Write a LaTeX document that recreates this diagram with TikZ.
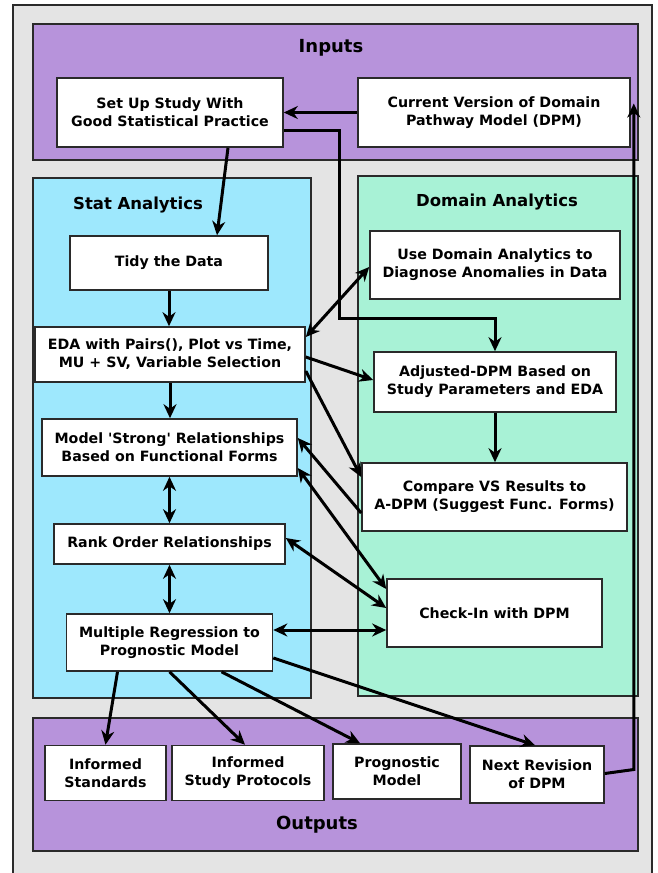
\documentclass[tikz,border=0pt]{standalone}
\usepackage{fontspec}
\setmainfont{DejaVu Sans}[Ligatures=TeXOff]
\usetikzlibrary{arrows.meta}
\definecolor{bggray}{HTML}{E4E4E4}
\definecolor{purp}{HTML}{B793DB}
\definecolor{skyb}{HTML}{9EE8FD}
\definecolor{mint}{HTML}{A8F2D6}
\definecolor{edge}{HTML}{2A2A2A}
\tikzset{
  region/.style={draw=edge, line width=1.8pt},
  box/.style={draw=edge, line width=1.6pt, fill=white, align=center, inner sep=0pt,
    font=\fontsize{14.2}{18}\selectfont\bfseries},
  title/.style={font=\fontsize{16.5}{20}\selectfont\bfseries},
  bigtitle/.style={font=\fontsize{18}{22}\selectfont\bfseries},
  tip/.style={Stealth[length=14pt,width=13pt,inset=4.5pt]},
  arr/.style={line width=3pt, -{Stealth[length=14pt,width=13pt,inset=4.5pt]}},
  darr/.style={line width=3pt, {Stealth[length=14pt,width=13pt,inset=4.5pt]}-{Stealth[length=14pt,width=13pt,inset=4.5pt]}}
}
\begin{document}
\begin{tikzpicture}[x=1pt,y=-1pt]
\useasboundingbox (0,0) rectangle (657,873);
% frames
\draw[region, fill=bggray, line width=1.5pt] (13,5) rectangle (652,890);
\draw[region, fill=purp] (33,24) rectangle (638,160);
\draw[region, fill=skyb] (33,178) rectangle (311,698);
\draw[region, fill=mint] (358,176) rectangle (638,696);
\draw[region, fill=purp] (33,718) rectangle (638,851);
% titles
\node[bigtitle] (tin) at (331,48) {Inputs};
\node[title] (tstat) at (138,205) {Stat Analytics};
\node[title] (tdom) at (497,202) {Domain Analytics};
\node[bigtitle] (tout) at (317,825) {Outputs};
% boxes
\node[box, minimum width=226pt, minimum height=69pt] (setup) at (170,112.5) {Set Up Study With\\Good Statistical Practice};
\node[box, minimum width=272pt, minimum height=69pt] (cur) at (494,112.5) {Current Version of Domain\\Pathway Model (DPM)};
\node[box, minimum width=198pt, minimum height=54pt] (tidy) at (169,263) {Tidy the Data};
\node[box, minimum width=270pt, minimum height=55pt] (eda) at (170,354.5) {EDA with Pairs(), Plot vs Time,\\MU + SV, Variable Selection};
\node[box, minimum width=255pt, minimum height=57pt] (model) at (169.5,447.5) {Model 'Strong' Relationships\\Based on Functional Forms};
\node[box, minimum width=231pt, minimum height=40pt] (rank) at (169.5,544) {Rank Order Relationships};
\node[box, minimum width=206pt, minimum height=57pt] (mult) at (169.5,642.5) {Multiple Regression to\\Prognostic Model};
\node[box, minimum width=250pt, minimum height=68pt] (use) at (495,265) {Use Domain Analytics to\\Diagnose Anomalies in Data};
\node[box, minimum width=242pt, minimum height=60pt] (adj) at (495,382) {Adjusted-DPM Based on\\Study Parameters and EDA};
\node[box, minimum width=265pt, minimum height=68pt] (comp) at (494.5,497) {Compare VS Results to\\A-DPM (Suggest Func. Forms)};
\node[box, minimum width=215pt, minimum height=68pt] (check) at (494.5,613) {Check-In with DPM};
\node[box, minimum width=121pt, minimum height=55pt] (std) at (105.5,773) {Informed\\Standards};
\node[box, minimum width=152pt, minimum height=55pt] (proto) at (248,773) {Informed\\Study Protocols};
\node[box, minimum width=128pt, minimum height=55pt] (prog) at (397,771.5) {Prognostic\\Model};
\node[box, minimum width=134pt, minimum height=57pt] (next) at (537,774.5) {Next Revision\\of DPM};
% connectors
\draw[arr] (cur.west) -- (setup.east);
\draw[arr] ([xshift=58pt]setup.south) -- ([xshift=48pt]tidy.north);
\draw[arr] ([yshift=-17.5pt]setup.east) -| ([xshift=-156pt,yshift=33pt]adj.north) -| (adj.north);
\draw[arr] (tidy.south) -- (tidy.south |- eda.north);
\draw[arr] (eda.south) -- (eda.south |- model.north);
\draw[darr] (model.south) -- (model.south |- rank.north);
\draw[darr] (rank.south) -- (rank.south |- mult.north);
\draw[arr] (adj.south) -- (adj.south |- comp.north);
\draw[darr] ([yshift=17.5pt]eda.east) -- ([yshift=-2pt]use.west);
\draw[arr] ([yshift=-2.5pt]eda.east) -- ([yshift=2pt]adj.west);
\draw[arr] ([yshift=-16.5pt]eda.east) -- ([yshift=20pt]comp.west);
\draw[arr] ([yshift=-16pt]comp.west) -- ([yshift=9.5pt]model.east);
\draw[darr] ([yshift=-20.5pt]model.east) -- ([yshift=24pt]check.west);
\draw[darr] ([yshift=6pt]rank.east) -- ([yshift=5pt]check.west);
\draw[darr] ([yshift=12.5pt]mult.east) -- ([yshift=-17pt]check.west);
\draw[arr] ([xshift=-52pt]mult.south) -- (std.north);
\draw[arr] (mult.south) -- ([xshift=-3pt]proto.north);
\draw[arr] ([xshift=52pt]mult.south) -- ([xshift=-37pt]prog.north);
\draw[arr] ([yshift=-15.5pt]mult.east) -- ([xshift=-2pt]next.north);
\draw[arr] ([yshift=1pt]next.east) -- ++(29,-4) -- ([xshift=3pt,yshift=9pt]cur.east);
\end{tikzpicture}
\end{document}
